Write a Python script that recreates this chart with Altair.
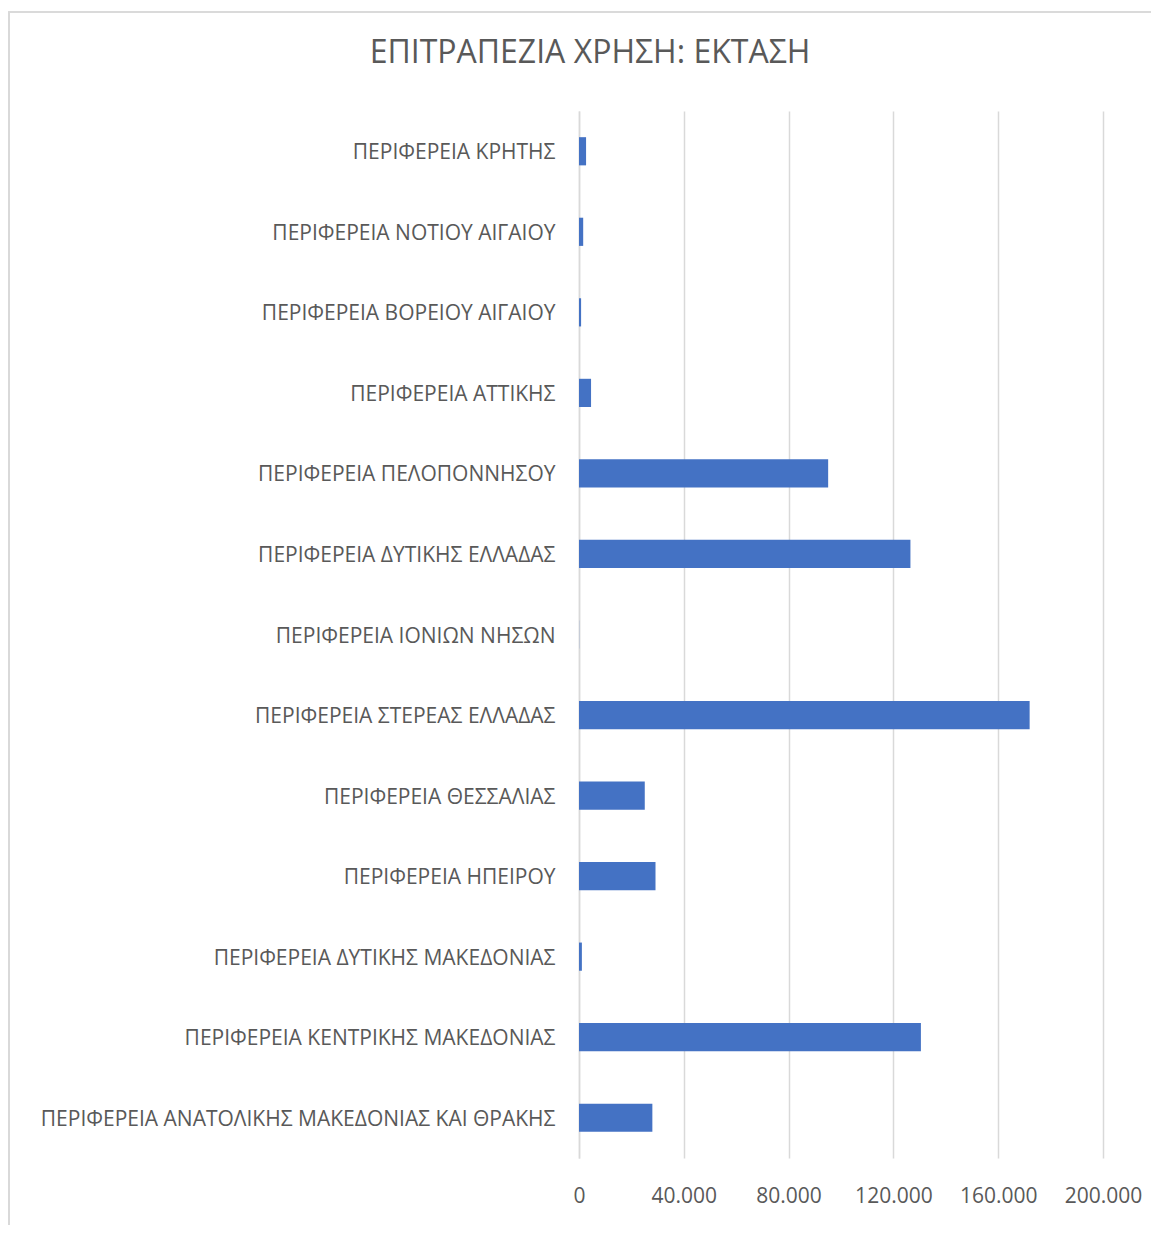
import altair as alt
import pandas as pd

regions = [
    "ΠΕΡΙΦΕΡΕΙΑ ΚΡΗΤΗΣ",
    "ΠΕΡΙΦΕΡΕΙΑ ΝΟΤΙΟΥ ΑΙΓΑΙΟΥ",
    "ΠΕΡΙΦΕΡΕΙΑ ΒΟΡΕΙΟΥ ΑΙΓΑΙΟΥ",
    "ΠΕΡΙΦΕΡΕΙΑ ΑΤΤΙΚΗΣ",
    "ΠΕΡΙΦΕΡΕΙΑ ΠΕΛΟΠΟΝΝΗΣΟΥ",
    "ΠΕΡΙΦΕΡΕΙΑ ΔΥΤΙΚΗΣ ΕΛΛΑΔΑΣ",
    "ΠΕΡΙΦΕΡΕΙΑ ΙΟΝΙΩΝ ΝΗΣΩΝ",
    "ΠΕΡΙΦΕΡΕΙΑ ΣΤΕΡΕΑΣ ΕΛΛΑΔΑΣ",
    "ΠΕΡΙΦΕΡΕΙΑ ΘΕΣΣΑΛΙΑΣ",
    "ΠΕΡΙΦΕΡΕΙΑ ΗΠΕΙΡΟΥ",
    "ΠΕΡΙΦΕΡΕΙΑ ΔΥΤΙΚΗΣ ΜΑΚΕΔΟΝΙΑΣ",
    "ΠΕΡΙΦΕΡΕΙΑ ΚΕΝΤΡΙΚΗΣ ΜΑΚΕΔΟΝΙΑΣ",
    "ΠΕΡΙΦΕΡΕΙΑ ΑΝΑΤΟΛΙΚΗΣ ΜΑΚΕΔΟΝΙΑΣ ΚΑΙ ΘΡΑΚΗΣ",
]
values = [2700, 1600, 800, 4600, 95100, 126500, 50, 172000, 25100, 29200, 1100, 130500, 28000]
x_ticks = [0, 40000, 80000, 120000, 160000, 200000]

df = pd.DataFrame({"region": regions, "value": values})

FONT = "Open Sans"
GREY = "#595959"

bars = alt.Chart(df).mark_bar(color="#4472C4").encode(
    y=alt.Y(
        "region:N",
        sort=None,
        scale=alt.Scale(paddingInner=0.65, paddingOuter=0.325),
        axis=alt.Axis(
            title=None,
            ticks=False,
            domain=True,
            domainColor="#d9d9d9",
            domainWidth=1.5,
            grid=False,
            labelFont=FONT,
            labelFontSize=21,
            labelColor=GREY,
            labelPadding=24,
            labelOffset=2,
            labelLimit=700,
        ),
    ),
    x=alt.X(
        "value:Q",
        scale=alt.Scale(domain=[0, 200000], nice=False),
        axis=alt.Axis(
            title=None,
            values=x_ticks,
            ticks=False,
            domain=False,
            grid=True,
            gridColor="#d9d9d9",
            gridWidth=1.5,
            labelFont=FONT,
            labelFontSize=21,
            labelColor=GREY,
            labelPadding=27,
            labelFlush=False,
            labelExpr="replace(format(datum.value, ','), ',', '.')",
        ),
    ),
)

frame = alt.Chart(df).mark_rect(
    fillOpacity=0, stroke="#d9d9d9", strokeWidth=1.2, clip=False
).encode(
    x=alt.value(-570),
    x2=alt.value(700),
    y=alt.value(-99),
    y2=alt.value(1300),
)

chart = (
    alt.layer(frame, bars)
    .properties(
        width=524,
        height=1047,
        view=alt.ViewBackground(stroke="transparent", strokeWidth=0),
        title=alt.TitleParams(
            "ΕΠΙΤΡΑΠΕΖΙΑ ΧΡΗΣΗ: ΕΚΤΑΣΗ",
            font=FONT,
            fontSize=32,
            fontWeight="normal",
            color=GREY,
            anchor="middle",
            frame="group",
            baseline="alphabetic",
            dx=-251,
            offset=-84,
        ),
        autosize=alt.AutoSizeParams(type="none"),
        padding={"left": 571, "top": 103, "right": 48, "bottom": 67},
    )
    .configure_view(stroke="transparent", strokeOpacity=0, strokeWidth=0)
    .configure(background="white", style={"cell": {"stroke": "transparent", "strokeWidth": 0}})
)

chart.save("out.html", embed_options={"renderer": "svg", "actions": False})
